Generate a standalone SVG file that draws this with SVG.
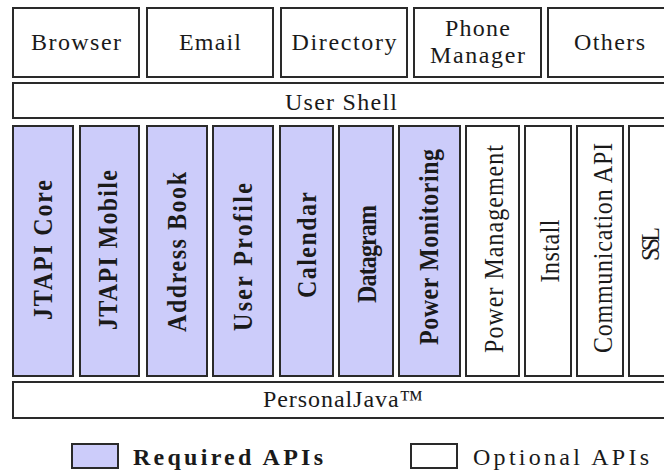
<svg xmlns="http://www.w3.org/2000/svg" width="664" height="470" viewBox="0 0 664 470" font-family="'Liberation Serif', 'Times New Roman', Times, 'DejaVu Serif', serif">
<style>
.box{fill:#ffffff;stroke:#2a2a2a;stroke-width:2}
.req{fill:#ccccfa;stroke:#2a2a2a;stroke-width:2}
.t{font-size:24px;fill:#1a1a1a;text-anchor:middle}
.b{font-weight:bold}
.l{text-anchor:start}
</style>
<rect width="664" height="470" fill="#ffffff"/>
<g id="browser"><rect class="box" x="13" y="8" width="126" height="69"/><text class="t" x="76" y="50" textLength="90">Browser</text></g>
<g id="email"><rect class="box" x="147" y="8" width="126" height="69"/><text class="t" x="210" y="50" textLength="62">Email</text></g>
<g id="directory"><rect class="box" x="281" y="8" width="126" height="69"/><text class="t" x="344" y="50" textLength="105">Directory</text></g>
<g id="phone-manager"><rect class="box" x="414" y="8" width="127" height="69"/><text class="t" x="477.5" y="36" textLength="65">Phone</text><text class="t" x="477.5" y="63" textLength="95">Manager</text></g>
<g id="others"><rect class="box" x="548" y="8" width="123" height="69"/><text class="t" x="609.5" y="50" textLength="71">Others</text></g>
<g id="user-shell"><rect class="box" x="13" y="83" width="658" height="35"/><text class="t" x="341" y="110" textLength="112">User Shell</text></g>

<g id="jtapi-core"><rect class="req" x="13" y="126" width="60" height="250"/><text class="t b" transform="translate(52,250) rotate(-90) scale(1,1.1)" textLength="140">JTAPI Core</text></g>
<g id="jtapi-mobile"><rect class="req" x="80" y="126" width="59" height="250"/><text class="t b" transform="translate(117,250) rotate(-90) scale(1,1.1)" textLength="160">JTAPI Mobile</text></g>
<g id="address-book"><rect class="req" x="147" y="126" width="60" height="250"/><text class="t b" transform="translate(186,252) rotate(-90) scale(1,1.1)" textLength="160">Address Book</text></g>
<g id="user-profile"><rect class="req" x="213" y="126" width="60" height="250"/><text class="t b" transform="translate(252,257) rotate(-90) scale(1,1.1)" textLength="148">User Profile</text></g>
<g id="calendar"><rect class="req" x="280" y="126" width="53" height="250"/><text class="t b" transform="translate(316,245) rotate(-90) scale(1,1.1)" textLength="106">Calendar</text></g>
<g id="datagram"><rect class="req" x="339" y="126" width="54" height="250"/><text class="t b" transform="translate(376,254) rotate(-90) scale(1,1.1)" textLength="98">Datagram</text></g>
<g id="power-monitoring"><rect class="req" x="399" y="126" width="61" height="250"/><text class="t b" transform="translate(438,247) rotate(-90) scale(1,1.1)" textLength="196">Power Monitoring</text></g>
<g id="power-management"><rect class="box" x="466" y="126" width="53" height="250"/><text class="t" transform="translate(503,249) rotate(-90) scale(1,1.15)" textLength="208">Power  Management</text></g>
<g id="install"><rect class="box" x="525" y="126" width="46" height="250"/><text class="t" transform="translate(559,251) rotate(-90) scale(1,1.15)" textLength="63">Install</text></g>
<g id="communication-api"><rect class="box" x="577" y="126" width="46" height="250"/><text class="t" transform="translate(612,248) rotate(-90) scale(1,1.15)" textLength="210">Communication  API</text></g>
<g id="ssl"><rect class="box" x="629" y="126" width="46" height="250"/><text class="t" transform="translate(659,244) rotate(-90) scale(1,1.05)" textLength="34">SSL</text></g>

<g id="personaljava"><rect class="box" x="13" y="382" width="658" height="36"/><text class="t" x="343" y="407" textLength="160">PersonalJava™</text></g>

<g id="legend-required"><rect class="req" x="72" y="444" width="46" height="24"/><text class="t b l" x="133" y="465" textLength="190">Required APIs</text></g>
<g id="legend-optional"><rect class="box" x="411" y="444" width="46" height="24"/><text class="t l" x="473" y="465" textLength="176">Optional APIs</text></g>
<g id="connectors"></g>
</svg>
